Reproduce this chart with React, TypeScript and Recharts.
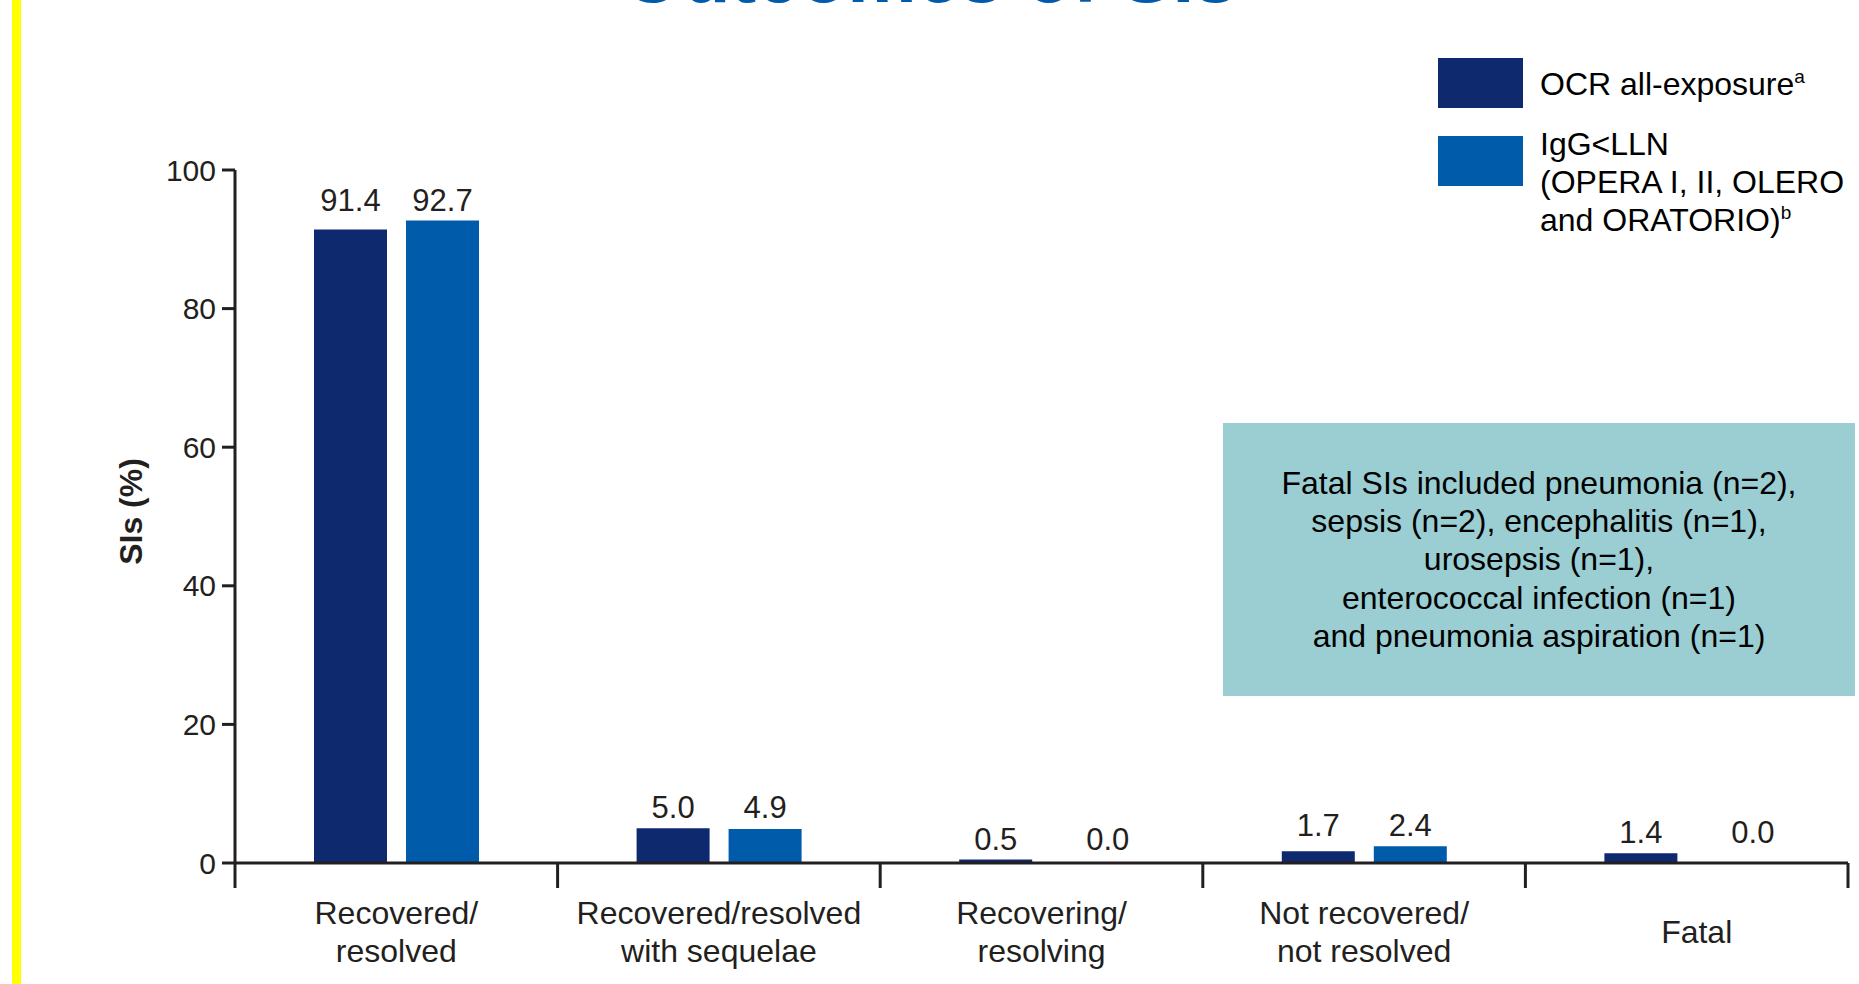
import React from 'react'
import { BarChart, Bar, XAxis, YAxis, LabelList, Legend } from 'recharts'

// outcome categories, '\n' marks the line break under the axis
const categories = [
  'Recovered/\nresolved',
  'Recovered/resolved\nwith sequelae',
  'Recovering/\nresolving',
  'Not recovered/\nnot resolved',
  'Fatal',
]
const ocrAllExposure = [91.4, 5.0, 0.5, 1.7, 1.4]
const iggBelowLln = [92.7, 4.9, 0.0, 2.4, 0.0]
const yTicks = [0, 20, 40, 60, 80, 100]

const seriesNames = ['OCR all-exposure', 'IgG<LLN (OPERA I, II, OLERO and ORATORIO)']
const legendLines = [['OCR all-exposure'], ['IgG<LLN', '(OPERA I, II, OLERO', 'and ORATORIO)']]
const legendNotes = ['a', 'b']

const fatalNotes = [
  'Fatal SIs included pneumonia (n=2),',
  'sepsis (n=2), encephalitis (n=1),',
  'urosepsis (n=1),',
  'enterococcal infection (n=1)',
  'and pneumonia aspiration (n=1)',
]

const data = categories.map((name, i) => ({ name, ocr: ocrAllExposure[i], igg: iggBelowLln[i] }))

const W = 1859
const H = 984
const PLOT_TOP = 170
const PLOT_BOTTOM = 863
const PLOT_LEFT = 235
const PLOT_RIGHT = 1848
const PLOT_H = PLOT_BOTTOM - PLOT_TOP
const STEP = (PLOT_RIGHT - PLOT_LEFT) / categories.length
const X_AXIS_H = 110
const BAR_SIZE = 73
const BAR_GAP = 19

const NAVY = '#0F296F'
const BLUE = '#005BAA'
const INK = '#231F20'
const FONT = '"Liberation Sans", Arial, sans-serif'

function CategoryTick(props: any) {
  const { x, y, payload, index } = props
  const left = x - STEP / 2
  const lines = String(payload.value).split('\n')
  const single = lines.length === 1
  const tx = single ? x + 10 : x
  return (
    <g>
      <line x1={left} x2={left} y1={y} y2={y + 25} stroke={INK} strokeWidth={3} />
      {index === categories.length - 1 && (
        <line x1={left + STEP} x2={left + STEP} y1={y} y2={y + 25} stroke={INK} strokeWidth={3} />
      )}
      <text x={tx} y={y + (single ? 79.5 : 60.5)} textAnchor="middle" fontSize={32} fill={INK}>
        {lines.map((l, k) => (
          <tspan key={k} x={tx} dy={k === 0 ? 0 : 38}>{l}</tspan>
        ))}
      </text>
    </g>
  )
}

// Both value labels of a category are drawn from the OCR bar (that series has no
// zero bars, so every category gets one), at the height of the taller bar.
function PairLabel(props: any) {
  const { x, y, width, height } = props
  const i = Math.floor((x + width / 2 - PLOT_LEFT) / STEP)
  const base = y + height
  const top = base - Math.max(ocrAllExposure[i], iggBelowLln[i]) * (PLOT_H / 100)
  const cx = x + width / 2
  // an empty second bar leaves its label a little further out
  const cx2 = cx + width + BAR_GAP + (iggBelowLln[i] === 0 ? 20 : 0)
  return (
    <g>
      <text x={cx} y={top - 10} textAnchor="middle" fontSize={31} fill={INK}>
        {ocrAllExposure[i].toFixed(1)}
      </text>
      <text x={cx2} y={top - 10} textAnchor="middle" fontSize={31} fill={INK}>
        {iggBelowLln[i].toFixed(1)}
      </text>
    </g>
  )
}

function YTitle() {
  const cx = 142
  const cy = PLOT_TOP + PLOT_H / 2 - 5
  return (
    <text
      x={cx}
      y={cy}
      transform={`rotate(-90, ${cx}, ${cy})`}
      textAnchor="middle"
      fontSize={32}
      fontWeight="bold"
      fill={INK}
    >
      SIs (%)
    </text>
  )
}

function LegendBlock(props: any) {
  const items = [...(props.payload || [])].sort(
    (a: any, b: any) => seriesNames.indexOf(a.value) - seriesNames.indexOf(b.value)
  )
  const rowTops = [0, 78]
  const textTops = [7, 67]
  return (
    <div style={{ position: 'relative', width: 0, height: 0 }}>
      {items.map((item: any, i: number) => (
        <React.Fragment key={i}>
          <div
            style={{
              position: 'absolute',
              left: 0,
              top: rowTops[i],
              width: 85,
              height: 50,
              background: item.color,
            }}
          />
          <div
            style={{
              position: 'absolute',
              left: 102,
              top: textTops[i],
              fontSize: 32,
              lineHeight: '38px',
              color: '#000',
              whiteSpace: 'nowrap',
              textAlign: 'left',
            }}
          >
            {legendLines[i].map((l, k) => (
              <div key={k}>
                {l}
                {k === legendLines[i].length - 1 && (
                  <sup style={{ fontSize: 19, lineHeight: 0 }}>{legendNotes[i]}</sup>
                )}
              </div>
            ))}
          </div>
        </React.Fragment>
      ))}
    </div>
  )
}

export default function App() {
  return (
    <div
      style={{
        position: 'absolute',
        left: 0,
        top: 0,
        width: W,
        height: H,
        background: '#fff',
        overflow: 'hidden',
        fontFamily: FONT,
      }}
    >
      <div style={{ position: 'absolute', left: 12, top: 0, width: 9, height: H, background: '#FFFF00' }} />
      <div
        style={{
          position: 'absolute',
          left: 622,
          top: -64,
          fontSize: 78,
          lineHeight: '78px',
          fontWeight: 'bold',
          color: BLUE,
          whiteSpace: 'nowrap',
        }}
      >
        Outcomes of SIs
      </div>

      <BarChart
        width={W}
        height={H}
        data={data}
        margin={{ top: PLOT_TOP, right: W - PLOT_RIGHT, left: 20, bottom: H - PLOT_BOTTOM - X_AXIS_H }}
        barSize={BAR_SIZE}
        barGap={BAR_GAP}
      >
        <YAxis
          width={PLOT_LEFT - 20}
          domain={[0, 100]}
          ticks={yTicks}
          interval={0}
          tickSize={13}
          tickMargin={6}
          axisLine={{ stroke: INK, strokeWidth: 3 }}
          tickLine={{ stroke: INK, strokeWidth: 3 }}
          tick={{ fontSize: 30, fill: INK }}
          label={<YTitle />}
        />
        <XAxis
          dataKey="name"
          height={X_AXIS_H}
          interval={0}
          tickSize={0}
          tickMargin={0}
          tickLine={false}
          axisLine={{ stroke: INK, strokeWidth: 3 }}
          tick={<CategoryTick />}
        />
        <Legend
          content={<LegendBlock />}
          wrapperStyle={{ position: 'absolute', left: 1438, top: 58, width: 0, height: 0 }}
        />
        <Bar dataKey="ocr" name={seriesNames[0]} fill={NAVY} isAnimationActive={false}>
          <LabelList dataKey="ocr" content={<PairLabel />} />
        </Bar>
        <Bar dataKey="igg" name={seriesNames[1]} fill={BLUE} isAnimationActive={false} />
      </BarChart>

      <div
        style={{
          position: 'absolute',
          left: 1223,
          top: 423,
          width: 632,
          height: 273,
          background: '#9ACED3',
          display: 'flex',
          flexDirection: 'column',
          justifyContent: 'center',
          alignItems: 'center',
          fontSize: 32,
          lineHeight: '38.3px',
          color: '#000',
          textAlign: 'center',
        }}
      >
        {fatalNotes.map((l, i) => (
          <div key={i}>{l}</div>
        ))}
      </div>
    </div>
  )
}
